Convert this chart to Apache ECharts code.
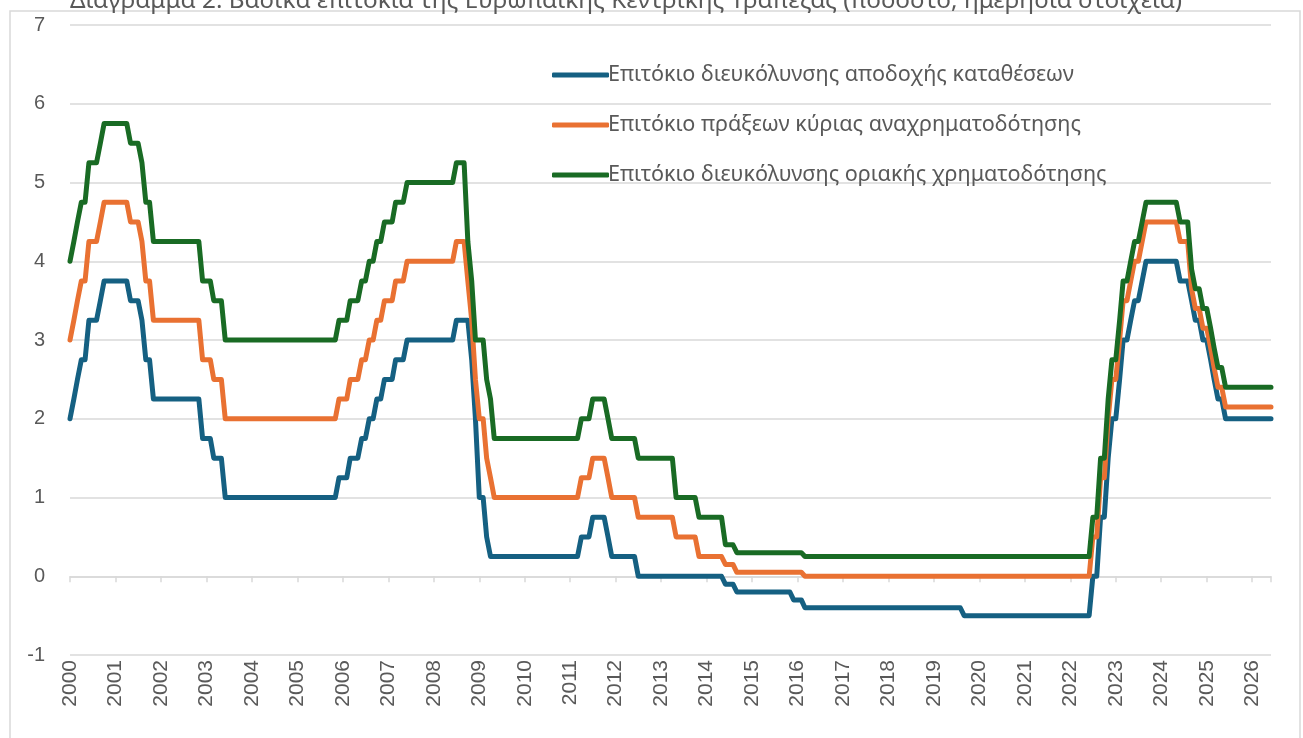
<!DOCTYPE html>
<html>
<head>
<meta charset="utf-8">
<script src="https://cdn.jsdelivr.net/npm/echarts@6/dist/echarts.min.js"></script>
<style>
html,body{margin:0;padding:0;background:#fff;}
#chart{width:1303px;height:738px;}
</style>
</head>
<body>
<div id="chart"></div>
<script>
// Title and legend names
const titleText = 'Διάγραμμα 2: Βασικά επιτόκια της Ευρωπαϊκής Κεντρικής Τράπεζας (ποσοστό, ημερήσια στοιχεία)';
const seriesNames = [
  'Επιτόκιο διευκόλυνσης αποδοχής καταθέσεων',
  'Επιτόκιο πράξεων κύριας αναχρηματοδότησης',
  'Επιτόκιο διευκόλυνσης οριακής χρηματοδότησης'
];
const yTicks = [-1, 0, 1, 2, 3, 4, 5, 6, 7];

// Month-end values (only months around each change are listed)
const depositRate = [
  ['2000-01',2.00],['2000-02',2.25],['2000-03',2.50],['2000-04',2.75],['2000-05',2.75],['2000-06',3.25],['2000-08',3.25],['2000-09',3.50],['2000-10',3.75],
  ['2001-04',3.75],['2001-05',3.50],['2001-07',3.50],['2001-08',3.25],['2001-09',2.75],['2001-10',2.75],['2001-11',2.25],
  ['2002-11',2.25],['2002-12',1.75],['2003-02',1.75],['2003-03',1.50],['2003-05',1.50],['2003-06',1.00],
  ['2005-11',1.00],['2005-12',1.25],['2006-02',1.25],['2006-03',1.50],['2006-05',1.50],['2006-06',1.75],['2006-07',1.75],['2006-08',2.00],
  ['2006-09',2.00],['2006-10',2.25],['2006-11',2.25],['2006-12',2.50],['2007-02',2.50],['2007-03',2.75],['2007-05',2.75],['2007-06',3.00],
  ['2008-06',3.00],['2008-07',3.25],['2008-10',3.25],['2008-11',2.75],['2008-12',2.00],['2009-01',1.00],['2009-02',1.00],['2009-03',0.50],['2009-04',0.25],
  ['2011-03',0.25],['2011-04',0.50],['2011-06',0.50],['2011-07',0.75],['2011-10',0.75],['2011-11',0.50],['2011-12',0.25],
  ['2012-06',0.25],['2012-07',0.00],['2014-05',0.00],['2014-06',-0.10],['2014-08',-0.10],['2014-09',-0.20],
  ['2015-11',-0.20],['2015-12',-0.30],['2016-02',-0.30],['2016-03',-0.40],['2019-08',-0.40],['2019-09',-0.50],
  ['2022-06',-0.50],['2022-07',0.00],['2022-08',0.00],['2022-09',0.75],['2022-10',0.75],['2022-11',1.50],['2022-12',2.00],
  ['2023-01',2.00],['2023-02',2.50],['2023-03',3.00],['2023-04',3.00],['2023-05',3.25],['2023-06',3.50],['2023-07',3.50],['2023-08',3.75],['2023-09',4.00],
  ['2024-05',4.00],['2024-06',3.75],['2024-08',3.75],['2024-09',3.50],['2024-10',3.25],['2024-11',3.25],['2024-12',3.00],
  ['2025-01',3.00],['2025-02',2.75],['2025-03',2.50],['2025-04',2.25],['2025-05',2.25],['2025-06',2.00],['2026-06',2.00]
];
const mainRefiRate = [
  ['2000-01',3.00],['2000-02',3.25],['2000-03',3.50],['2000-04',3.75],['2000-05',3.75],['2000-06',4.25],['2000-08',4.25],['2000-09',4.50],['2000-10',4.75],
  ['2001-04',4.75],['2001-05',4.50],['2001-07',4.50],['2001-08',4.25],['2001-09',3.75],['2001-10',3.75],['2001-11',3.25],
  ['2002-11',3.25],['2002-12',2.75],['2003-02',2.75],['2003-03',2.50],['2003-05',2.50],['2003-06',2.00],
  ['2005-11',2.00],['2005-12',2.25],['2006-02',2.25],['2006-03',2.50],['2006-05',2.50],['2006-06',2.75],['2006-07',2.75],['2006-08',3.00],
  ['2006-09',3.00],['2006-10',3.25],['2006-11',3.25],['2006-12',3.50],['2007-02',3.50],['2007-03',3.75],['2007-05',3.75],['2007-06',4.00],
  ['2008-06',4.00],['2008-07',4.25],['2008-09',4.25],['2008-10',3.75],['2008-11',3.25],['2008-12',2.50],['2009-01',2.00],['2009-02',2.00],['2009-03',1.50],['2009-04',1.25],['2009-05',1.00],
  ['2011-03',1.00],['2011-04',1.25],['2011-06',1.25],['2011-07',1.50],['2011-10',1.50],['2011-11',1.25],['2011-12',1.00],
  ['2012-06',1.00],['2012-07',0.75],['2013-04',0.75],['2013-05',0.50],['2013-10',0.50],['2013-11',0.25],
  ['2014-05',0.25],['2014-06',0.15],['2014-08',0.15],['2014-09',0.05],['2016-02',0.05],['2016-03',0.00],
  ['2022-06',0.00],['2022-07',0.50],['2022-08',0.50],['2022-09',1.25],['2022-10',1.25],['2022-11',2.00],['2022-12',2.50],
  ['2023-01',2.50],['2023-02',3.00],['2023-03',3.50],['2023-04',3.50],['2023-05',3.75],['2023-06',4.00],['2023-07',4.00],['2023-08',4.25],['2023-09',4.50],
  ['2024-05',4.50],['2024-06',4.25],['2024-08',4.25],['2024-09',3.65],['2024-10',3.40],['2024-11',3.40],['2024-12',3.15],
  ['2025-01',3.15],['2025-02',2.90],['2025-03',2.65],['2025-04',2.40],['2025-05',2.40],['2025-06',2.15],['2026-06',2.15]
];
const marginalRate = [
  ['2000-01',4.00],['2000-02',4.25],['2000-03',4.50],['2000-04',4.75],['2000-05',4.75],['2000-06',5.25],['2000-08',5.25],['2000-09',5.50],['2000-10',5.75],
  ['2001-04',5.75],['2001-05',5.50],['2001-07',5.50],['2001-08',5.25],['2001-09',4.75],['2001-10',4.75],['2001-11',4.25],
  ['2002-11',4.25],['2002-12',3.75],['2003-02',3.75],['2003-03',3.50],['2003-05',3.50],['2003-06',3.00],
  ['2005-11',3.00],['2005-12',3.25],['2006-02',3.25],['2006-03',3.50],['2006-05',3.50],['2006-06',3.75],['2006-07',3.75],['2006-08',4.00],
  ['2006-09',4.00],['2006-10',4.25],['2006-11',4.25],['2006-12',4.50],['2007-02',4.50],['2007-03',4.75],['2007-05',4.75],['2007-06',5.00],
  ['2008-06',5.00],['2008-07',5.25],['2008-09',5.25],['2008-10',4.25],['2008-11',3.75],['2008-12',3.00],['2009-02',3.00],['2009-03',2.50],['2009-04',2.25],['2009-05',1.75],
  ['2011-03',1.75],['2011-04',2.00],['2011-06',2.00],['2011-07',2.25],['2011-10',2.25],['2011-11',2.00],['2011-12',1.75],
  ['2012-06',1.75],['2012-07',1.50],['2013-04',1.50],['2013-05',1.00],['2013-10',1.00],['2013-11',0.75],
  ['2014-05',0.75],['2014-06',0.40],['2014-08',0.40],['2014-09',0.30],['2016-02',0.30],['2016-03',0.25],
  ['2022-06',0.25],['2022-07',0.75],['2022-08',0.75],['2022-09',1.50],['2022-10',1.50],['2022-11',2.25],['2022-12',2.75],
  ['2023-01',2.75],['2023-02',3.25],['2023-03',3.75],['2023-04',3.75],['2023-05',4.00],['2023-06',4.25],['2023-07',4.25],['2023-08',4.50],['2023-09',4.75],
  ['2024-05',4.75],['2024-06',4.50],['2024-08',4.50],['2024-09',3.90],['2024-10',3.65],['2024-11',3.65],['2024-12',3.40],
  ['2025-01',3.40],['2025-02',3.15],['2025-03',2.90],['2025-04',2.65],['2025-05',2.65],['2025-06',2.40],['2026-06',2.40]
];

const colors = ['#156082', '#E97132', '#196B24'];
const xMin = '2000-01-01';
const xMax = '2026-06-01';
const YEAR = 365.25 * 24 * 3600 * 1000;
const labelColor = '#595959';
const gridColor = '#D9D9D9';

const toSeries = (arr) => arr.map(d => [d[0] + '-01', d[1]]);

const chart = echarts.init(document.getElementById('chart'), null, {renderer: 'canvas'});
const lineSeries = [depositRate, mainRefiRate, marginalRate].map((arr, i) => ({
  name: seriesNames[i],
  type: 'line',
  xAxisIndex: 0,
  data: toSeries(arr),
  showSymbol: false,
  symbol: 'none',
  lineStyle: {width: 5, color: colors[i], cap: 'round', join: 'round'},
  itemStyle: {color: colors[i]},
  animation: false,
  z: 2 + i
}));

chart.setOption({
  animation: false,
  backgroundColor: '#fff',
  title: {
    text: titleText,
    left: 65,
    top: -16,
    textStyle: {fontFamily: 'Noto Sans', fontSize: 24.3, fontWeight: 'normal', color: labelColor}
  },
  legend: {
    orient: 'vertical',
    left: 547,
    top: 58,
    itemGap: 26,
    itemWidth: 57,
    itemHeight: 5,
    icon: 'roundRect',
    textStyle: {fontFamily: 'Noto Sans', fontSize: 21.6, color: labelColor, lineHeight: 24, padding: [0, 0, 0, -6]},
    data: seriesNames
  },
  grid: {left: 70, right: 32, top: 25, bottom: 83, containLabel: false},
  xAxis: [{
    type: 'time',
    min: xMin,
    max: xMax,
    minInterval: YEAR,
    maxInterval: YEAR,
    axisLine: {show: false, onZero: false},
    axisTick: {show: false},
    splitLine: {show: false},
    axisLabel: {
      rotate: 90,
      margin: 5,
      color: labelColor,
      fontFamily: 'Liberation Sans',
      fontSize: 21,
      showMaxLabel: false,
      formatter: (v) => String(new Date(v).getFullYear()),
      hideOverlap: false
    }
  }, {
    type: 'time',
    min: xMin,
    max: xMax,
    minInterval: YEAR,
    maxInterval: YEAR,
    position: 'bottom',
    axisLine: {show: true, onZero: true, lineStyle: {color: gridColor, width: 1.5}},
    axisTick: {show: true, length: 6, lineStyle: {color: gridColor, width: 1.5}},
    axisLabel: {show: false},
    splitLine: {show: false}
  }],
  yAxis: {
    type: 'value',
    min: yTicks[0],
    max: yTicks[yTicks.length - 1],
    interval: 1,
    axisLine: {show: false},
    axisTick: {show: false},
    axisLabel: {color: labelColor, fontFamily: 'Liberation Sans', fontSize: 20, margin: 25},
    splitLine: {lineStyle: {color: gridColor, width: 1.5}}
  },
  graphic: [{
    type: 'rect',
    shape: {x: 10, y: 11, width: 1290, height: 760},
    style: {fill: null, stroke: gridColor, lineWidth: 1.5},
    silent: true,
    z: -1
  }],
  series: lineSeries
});
</script>
</body>
</html>
